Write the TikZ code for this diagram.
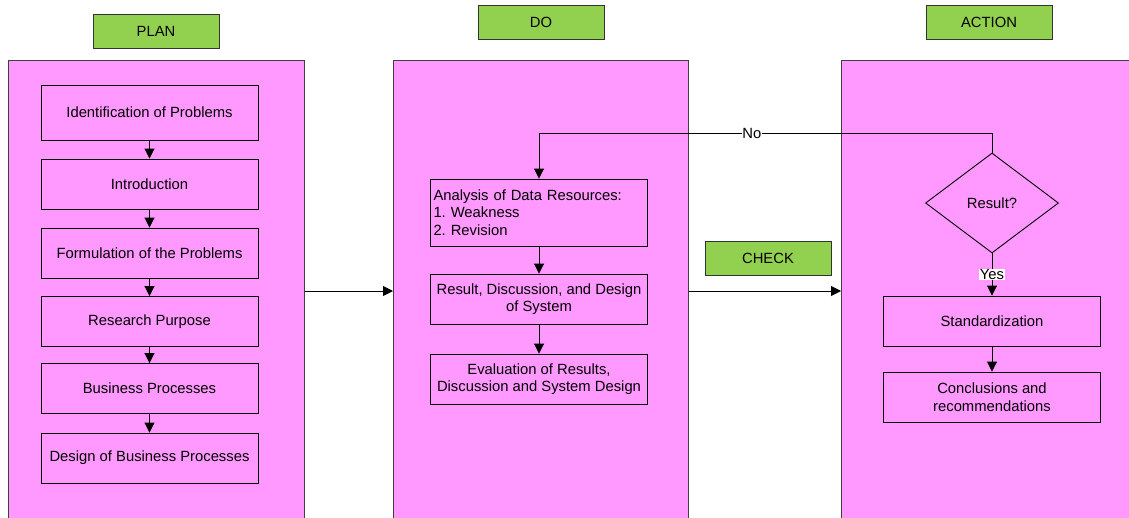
\documentclass[tikz,border=0pt]{standalone}
\usepackage{fontspec}
\setmainfont{Liberation Sans}
\usetikzlibrary{arrows.meta,shapes.geometric}
\definecolor{pdcapink}{HTML}{FF99FF}
\definecolor{pdcagreen}{HTML}{92D050}
\frenchspacing
\begin{document}
\begin{tikzpicture}[x=1pt, y=-1pt, line width=0.9pt,
  every node/.style={font=\fontsize{14.8}{17.5}\selectfont},
  panel/.style={draw=black!75, fill=pdcapink, line width=0.8pt},
  phase/.style={draw=black!80, fill=pdcagreen, minimum width=126pt, minimum height=34pt, inner sep=0pt},
  stepbox/.style={draw, fill=pdcapink, minimum width=217pt, minimum height=50pt, align=center, inner sep=2pt},
  flow/.style={-{Triangle[length=10pt,width=10pt]}}]
\useasboundingbox (0,0) rectangle (1129,517);
\clip (0,0) rectangle (1129,517);
% panels
\node[panel, anchor=north west, minimum width=296pt, minimum height=470pt, inner sep=0pt] (planpanel) at (8,60) {};
\node[panel, anchor=north west, minimum width=295pt, minimum height=470pt, inner sep=0pt] (dopanel) at (393,60) {};
\node[panel, anchor=north west, minimum width=300pt, minimum height=470pt, inner sep=0pt] (actpanel) at (841,60) {};
% phase labels
\node[phase] (plan) at (156,31.5) {PLAN};
\node[phase] (do) at (541,22) {DO};
\node[phase] (action) at (989,22) {ACTION};
\node[phase] (check) at (768,258.5) {CHECK};
% plan steps
\node[stepbox, minimum height=55pt] (ident) at (149.5,112.5) {Identification of Problems};
\node[stepbox] (intro) at (149.5,184) {Introduction};
\node[stepbox] (formul) at (149.5,253) {Formulation of the Problems};
\node[stepbox] (purpose) at (149.5,321.5) {Research Purpose};
\node[stepbox] (busproc) at (149.5,388.5) {Business Processes};
\node[stepbox] (busdesign) at (149.5,458) {Design of Business Processes};
% do steps
\node[stepbox, minimum height=67pt, align=left, text width=211pt] (analysis) at (539,212.5) {Analysis of Data Resources:\\1. Weakness\\2. Revision};
\node[stepbox] (result) at (539,299) {Result, Discussion, and Design\\of System};
\node[stepbox] (evaluation) at (539,379) {Evaluation of Results,\\Discussion and System Design};
% action steps
\node[draw, diamond, fill=pdcapink, minimum width=133pt, minimum height=100pt, inner sep=0pt] (decide) at (992,203) {Result?};
\node[stepbox] (standard) at (992,321) {Standardization};
\node[stepbox] (conclude) at (992,397) {Conclusions and\\recommendations};
% connectors
\coordinate (flowy) at (0,291);
\coordinate (loop) at (992,133);
\foreach \a/\b in {ident/intro,intro/formul,formul/purpose,purpose/busproc,busproc/busdesign,analysis/result,result/evaluation,standard/conclude}
  \draw[flow] (\a) -- (\b);
\draw[flow] (planpanel.east |- flowy) -- (dopanel.west |- flowy);
\draw[flow] (dopanel.east |- flowy) -- (actpanel.west |- flowy);
\draw[flow] (decide.north) -- (loop) -| node[pos=0.265, fill=white, inner sep=0.5pt] {No} (analysis.north);
\draw[flow] (decide.south) -- node[fill=white, inner sep=0.5pt] {Yes} (standard.north);
\end{tikzpicture}
\end{document}
